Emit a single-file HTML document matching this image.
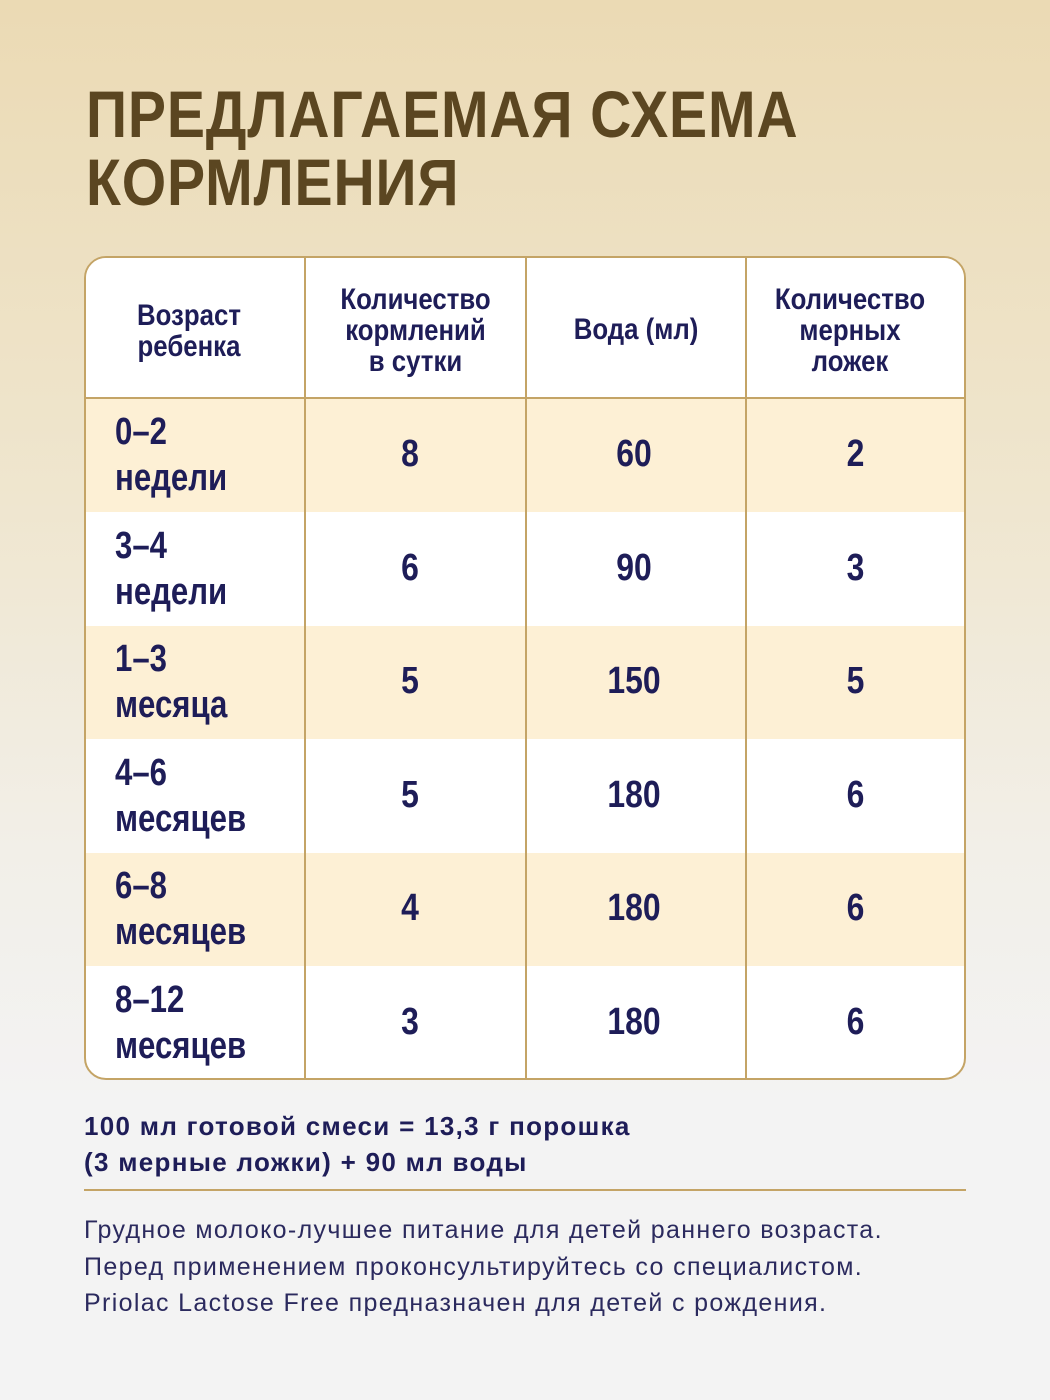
<!DOCTYPE html>
<html><head><meta charset="utf-8"><style>
html,body{margin:0;padding:0}
body{width:1050px;height:1400px;position:relative;overflow:hidden;
background:linear-gradient(180deg,#ebdab4 0px,#efe6cf 500px,#f2efe8 850px,#f3f3f3 1100px,#f3f3f3 1400px);
font-family:"Liberation Sans",sans-serif;}
.t{position:absolute;left:86px;color:#5b4621;font-weight:bold;font-size:66px;letter-spacing:1px;line-height:68px;transform:scaleX(0.865);transform-origin:left;white-space:nowrap}
.tbl{position:absolute;left:84px;top:256px;width:878px;height:820px;border:2px solid #c4a466;border-radius:22px;overflow:hidden;background:#fff}
.row{position:absolute;left:0;width:878px}
.v{position:absolute;top:0;bottom:0;width:2px;background:#c4a466}
.c{position:absolute;color:#1e1d58;font-weight:bold;text-align:center;transform:scaleX(0.84);transform-origin:center}
.n{font-size:38px}
.h{font-size:30px;line-height:31px;transform:scaleX(0.86)}
.a{font-size:38px;line-height:46px;text-align:left;transform:scaleX(0.82);transform-origin:left}
.foot{position:absolute;left:84px;color:#1e1d58;font-weight:bold;font-size:26px;line-height:36px;letter-spacing:1.3px}
.note{position:absolute;left:84px;top:1212px;color:#2b2a5e;font-size:25px;line-height:36.5px;letter-spacing:1.35px}
</style></head><body>
<div class="t" style="top:80px">ПРЕДЛАГАЕМАЯ СХЕМА</div>
<div class="t" style="top:148px">КОРМЛЕНИЯ</div>
<div class="tbl">
<div class="row" style="top:0;height:139px;background:#fff;border-bottom:2px solid #c4a466"></div>
<div class="row" style="top:141px;height:113px;background:#fdf0d5"></div>
<div class="row" style="top:368px;height:113px;background:#fdf0d5"></div>
<div class="row" style="top:595px;height:113px;background:#fdf0d5"></div>
<div class="v" style="left:218px"></div><div class="v" style="left:439px"></div><div class="v" style="left:659px"></div>
<div class="c h" style="left:0;width:206px;top:42px">Возраст<br>ребенка</div>
<div class="c h" style="left:220px;width:219px;top:26px">Количество<br>кормлений<br>в сутки</div>
<div class="c h" style="left:441px;width:218px;top:56px">Вода (мл)</div>
<div class="c h" style="left:661px;width:206px;top:26px">Количество<br>мерных<br>ложек</div>
</div>
<div id="rows"></div>
<div class="foot" style="top:1108px">100 мл готовой смеси = 13,3 г порошка<br>(3 мерные ложки) + 90 мл воды</div>
<div style="position:absolute;left:84px;top:1189px;width:882px;height:2px;background:#c4a466"></div>
<div class="note">Грудное молоко-лучшее питание для детей раннего возраста.<br>Перед применением проконсультируйтесь со специалистом.<br>Priolac Lactose Free предназначен для детей с рождения.</div>
<script>
var d=[["0–2","недели","8","60","2"],["3–4","недели","6","90","3"],["1–3","месяца","5","150","5"],["4–6","месяцев","5","180","6"],["6–8","месяцев","4","180","6"],["8–12","месяцев","3","180","6"]];
var h="";d.forEach(function(r,i){var y=399+i*113.6;
h+='<div class="c a" style="left:115px;top:'+(y+10)+'px">'+r[0]+'<br>'+r[1]+'</div>';
h+='<div class="c n" style="left:306px;width:208px;top:'+(y+34)+'px">'+r[2]+'</div>';
h+='<div class="c n" style="left:527px;width:214px;top:'+(y+34)+'px">'+r[3]+'</div>';
h+='<div class="c n" style="left:747px;width:217px;top:'+(y+34)+'px">'+r[4]+'</div>';});
document.getElementById('rows').innerHTML=h;
</script>
</body></html>
